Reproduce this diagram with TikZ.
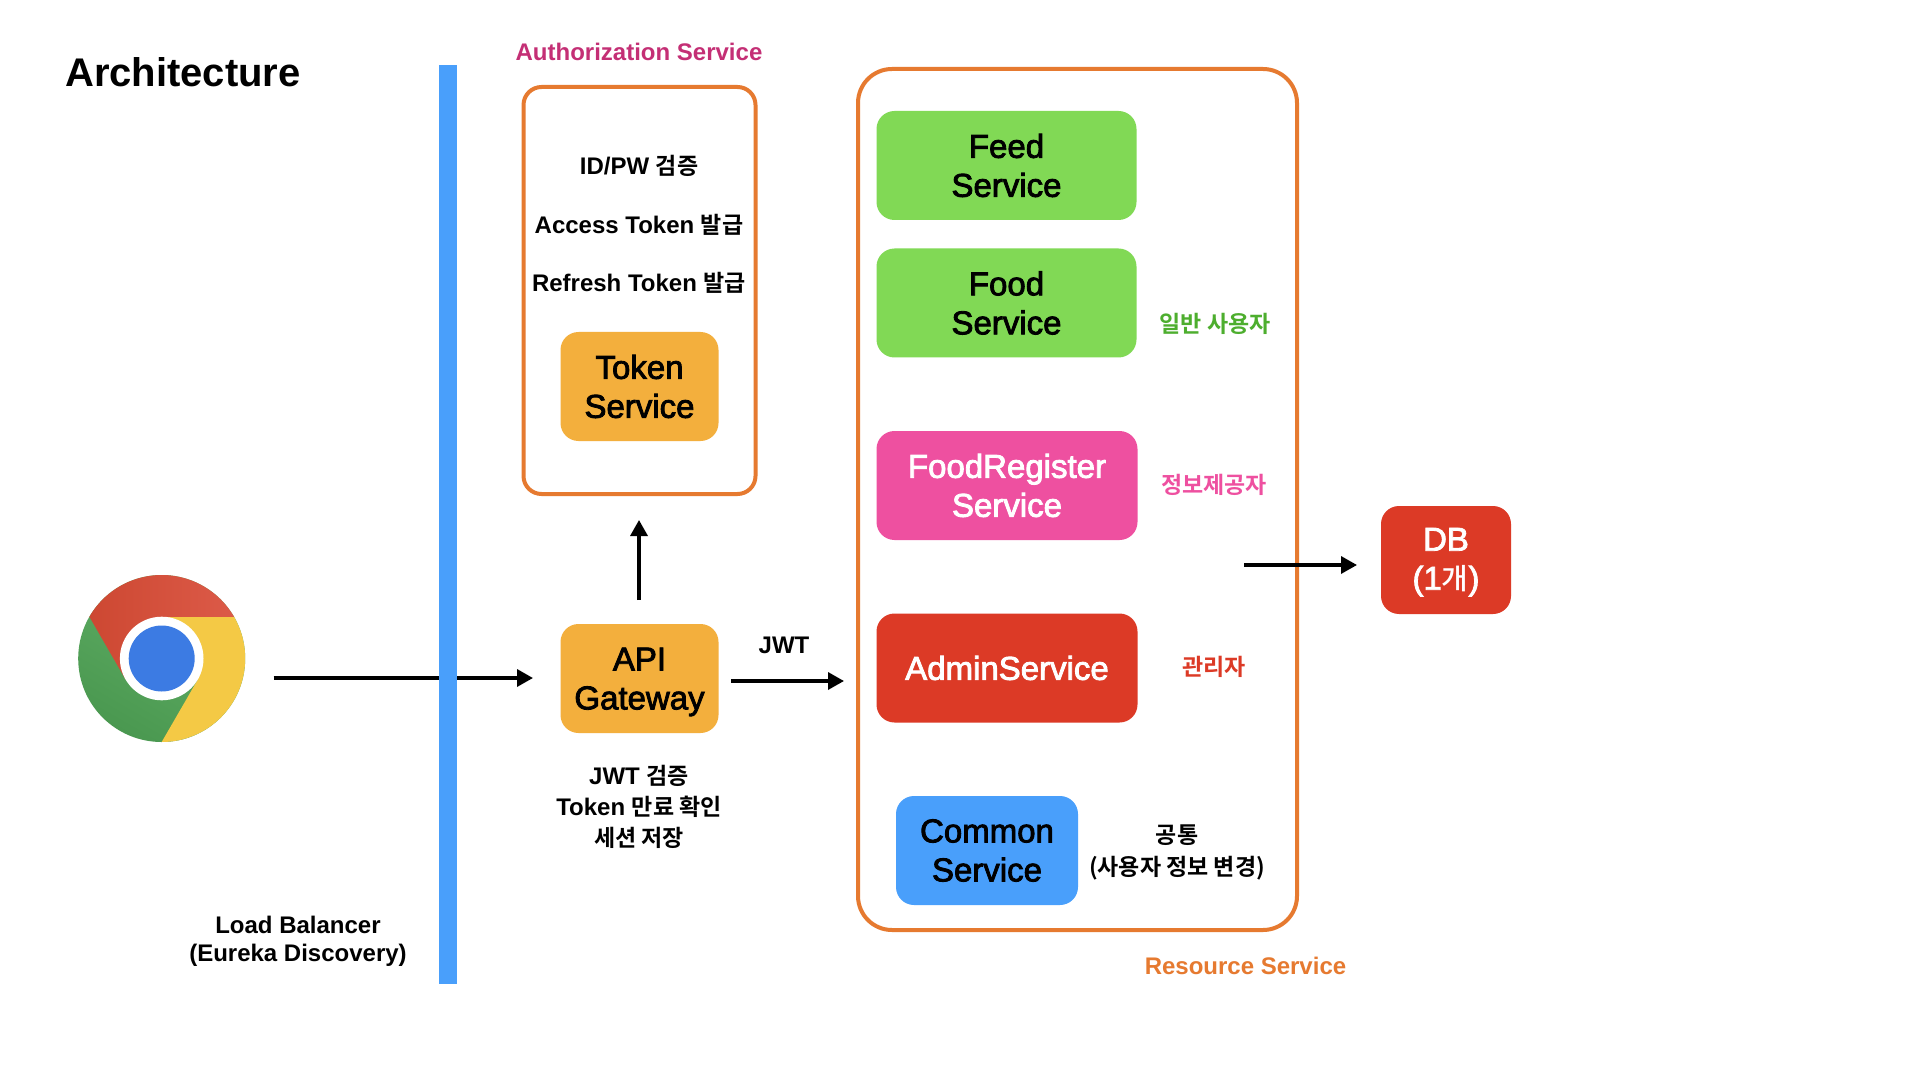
\documentclass[tikz,border=0pt]{standalone}
\usepackage{fontspec}
\setmainfont{Liberation Sans}
\newfontfamily\med{Liberation Sans}[RawFeature={embolden=2.5}]
\newfontfamily\medkr{Noto Sans CJK KR Medium}
\newfontfamily\lb{Liberation Sans Bold}
\newfontfamily\krb{Noto Sans CJK KR Bold}
\usetikzlibrary{arrows.meta}
\definecolor{cOrange}{HTML}{E67A30}
\definecolor{cMagenta}{HTML}{C42F75}
\definecolor{cBlue}{HTML}{499FFB}
\definecolor{cGreen}{HTML}{81D955}
\definecolor{cAmber}{HTML}{F3AF3D}
\definecolor{cPink}{HTML}{EE50A0}
\definecolor{cRed}{HTML}{DC3A26}
\definecolor{cGreenT}{HTML}{4DAE2E}
\definecolor{gA}{HTML}{63B168}
\definecolor{gB}{HTML}{4A9850}
\definecolor{yA}{HTML}{F4C945}
\definecolor{rA}{HTML}{CD4832}
\definecolor{rB}{HTML}{DC5A48}
\definecolor{bA}{HTML}{3C7BE3}
\newcommand{\K}[1]{{\krb\fontsize{11.5}{14}\selectfont #1}}
\tikzset{
  svc/.style={rounded corners=9pt,inner sep=0pt,align=center,font=\med\fontsize{16.5}{19.5}\selectfont},
  frame/.style={draw=cOrange,line width=2pt,fill=none,inner sep=0pt},
  lbl/.style={align=center,inner sep=0pt,font=\lb\fontsize{12}{14}\selectfont},
  arr/.style={line width=1.7pt,-{Triangle[length=8pt,width=8.5pt]}}
}
\newcommand{\SvcBox}[7]{\node[svc,fill=#6,text=#7,minimum width=#3*0.5pt,minimum height=#4*0.5pt] (#1) at (#2) {#5};}
\begin{document}
\begin{tikzpicture}[x=0.5pt,y=-0.5pt]
\useasboundingbox (0,0) rectangle (1920,1080);
\fill[white] (0,0) rectangle (1920,1080);
% title
\node[inner sep=0pt,font=\lb\fontsize{20}{24}\selectfont] (title) at (183,72) {Architecture};
% chrome
\coordinate (cc) at (161.7,658.5);
\begin{scope}[shift={(cc)}]
  \shade[left color=gA,right color=gB,shading angle=-30] (0,0) circle[radius=83.5];
  \fill[yA] (72.3,-41.75) arc[start angle=330,end angle=450,radius=83.5] -- (36.2,20.9) -- (0,0) -- (0,-41.75) -- cycle;
  \shade[left color=rA,right color=rB]
     (-72.3,-41.75) arc[start angle=210,end angle=330,radius=83.5] -- (0,-41.75) -- (0,0) -- (-36.2,20.9) -- cycle;
  \fill[white] (0,0) circle[radius=41.8];
  \fill[bA] (0,0) circle[radius=33];
\end{scope}
% connectors behind the bar
\coordinate (lbA) at (273.5,678);
\coordinate (lbB) at (533,678);
\draw[arr] (lbA) -- (lbB);
% bar
\node[fill=cBlue,minimum width=18*0.5pt,minimum height=918*0.5pt,inner sep=0pt] (bar) at (448,524.5) {};
% auth
\node[lbl,text=cMagenta] (authT) at (639,51.5) {Authorization Service};
\draw[frame,rounded corners=9pt] (523.5,87) rectangle (755.5,494);
\node[lbl] (t1) at (639,166) {ID/PW \K{검증}};
\node[lbl] (t2) at (639,224.5) {Access Token \K{발급}};
\node[lbl] (t3) at (639,283) {Refresh Token \K{발급}};
\SvcBox{token}{639.5,386.5}{158}{109}{Token\\Service}{cAmber}{black}
\SvcBox{gw}{639.5,678.5}{158}{109}{\rule{0pt}{14.8pt}API\\Gateway}{cAmber}{black}
\node[lbl] (t4) at (639,806.5) {JWT \K{검증}\\[1.5pt]Token \K{만료 확인}\\[1.5pt]\K{세션 저장}};
\node[lbl] (jwt) at (784,645.5) {JWT};
\coordinate (upA) at (639,600);
\coordinate (upB) at (639,520);
\draw[arr] (upA) -- (upB);
\coordinate (jA) at (731,681);
\coordinate (jB) at (844,681);
\draw[arr] (jA) -- (jB);
% resource
\draw[frame,rounded corners=17pt] (858,69) rectangle (1297,930);
\SvcBox{feed}{1006.5,165.5}{260}{109}{Feed\\Service}{cGreen}{black}
\SvcBox{food}{1006.5,303}{260}{109}{Food\\Service}{cGreen}{black}
\SvcBox{reg}{1007,485.5}{261}{109}{FoodRegister\\Service}{cPink}{white}
\SvcBox{adm}{1007,668}{261}{109}{AdminService}{cRed}{white}
\SvcBox{com}{987,850.5}{182}{109}{Common\\Service}{cBlue}{black}
\node[lbl,text=cGreenT] (l1) at (1215,324) {\K{일반 사용자}};
\node[lbl,text=cPink] (l2) at (1214,485) {\K{정보제공자}};
\node[lbl,text=cRed] (l3) at (1214,667) {\K{관리자}};
\node[lbl] (l4) at (1177,852) {\K{공통}\\[2pt]\K{(사용자 정보 변경)}};
\node[lbl,text=cOrange] (resT) at (1245.5,965.5) {Resource Service};
\coordinate (dA) at (1244,565);
\coordinate (dB) at (1357,565);
\draw[arr] (dA) -- (dB);
\SvcBox{db}{1446,560}{130}{108}{\rule{0pt}{13.6pt}DB\\(1{\medkr\fontsize{14.5}{19.5}\selectfont 개})}{cRed}{white}
\node[lbl] (lbt) at (298,941) {Load Balancer\\(Eureka Discovery)};
\end{tikzpicture}
\end{document}
